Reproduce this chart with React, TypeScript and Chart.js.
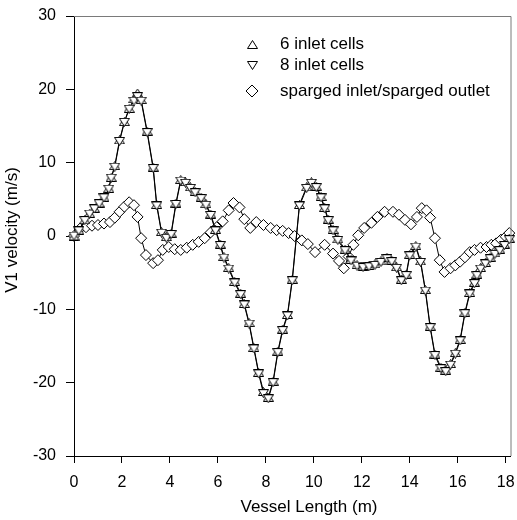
import React, { useEffect, useRef } from "react";
import { Chart, registerables } from "chart.js";

Chart.register(...registerables);

const FONT = "'Liberation Sans', Arial, Helvetica, sans-serif";

const xTicks = [0, 2, 4, 6, 8, 10, 12, 14, 16, 18];
const yTicks = [-30, -20, -10, 0, 10, 20, 30];
const xTitle = "Vessel Length (m)";
const yTitle = "V1 velocity (m/s)";
const legendLabels = ["6 inlet cells", "8 inlet cells", "sparged inlet/sparged outlet"];

const inlet6X = [
  0.0, 0.2, 0.45, 0.65, 0.85, 1.05, 1.25, 1.45, 1.55, 1.7, 1.9, 2.1, 2.3, 2.5, 2.65, 2.8,
  3.05, 3.3, 3.45, 3.65, 3.85, 4.05, 4.25, 4.45, 4.65, 4.85, 5.05, 5.3, 5.5, 5.7, 5.9, 6.1,
  6.25, 6.45, 6.7, 6.95, 7.1, 7.3, 7.5, 7.7, 7.9, 8.1, 8.3, 8.5, 8.7, 8.9, 9.1, 9.4, 9.7,
  9.9, 10.1, 10.3, 10.45, 10.6, 10.8, 11.0, 11.3, 11.55, 11.8, 12.05, 12.3, 12.55, 12.8,
  13.05, 13.25, 13.45, 13.65, 13.85, 14.0, 14.25, 14.45, 14.65, 14.85, 15.05, 15.3, 15.5,
  15.7, 15.9, 16.1, 16.3, 16.5, 16.7, 16.8, 16.95, 17.15, 17.35, 17.55, 17.75, 17.95, 18.15,
];
const inlet6Y = [
  0.0, 0.8, 2.2, 3.1, 3.8, 4.5, 5.3, 6.5, 8.0, 9.6, 13.1, 15.6, 17.4, 18.7, 19.5, 18.6,
  14.3, 9.4, 4.3, 0.6, -0.1, 0.4, 4.5, 7.7, 7.4, 6.7, 6.1, 5.3, 4.4, 3.0, 0.9, -1.1,
  -2.8, -4.3, -6.2, -7.8, -9.2, -11.8, -15.2, -18.6, -21.2, -22.0, -19.8, -15.7, -12.7, -10.7, -5.9, 4.3, 6.7,
  7.4, 6.8, 5.4, 3.9, 2.3, 0.9, -0.4, -1.8, -3.2, -3.9, -4.1, -4.0, -3.8, -3.4,
  -2.9, -3.3, -4.2, -5.9, -5.2, -2.5, -1.3, -3.4, -7.3, -12.3, -16.1, -17.9, -18.3,
  -17.4, -15.9, -14.1, -10.4, -7.7, -6.3, -5.2, -4.3, -3.6, -2.9, -2.3, -1.8, -1.1, -0.3,
];

const inlet8X = [
  0.0, 0.2, 0.45, 0.65, 0.85, 1.05, 1.25, 1.45, 1.55, 1.7, 1.9, 2.1, 2.3, 2.5, 2.65, 2.8,
  3.05, 3.3, 3.45, 3.65, 3.85, 4.05, 4.25, 4.45, 4.65, 4.85, 5.05, 5.3, 5.5, 5.7, 5.9, 6.1,
  6.25, 6.45, 6.7, 6.95, 7.1, 7.3, 7.5, 7.7, 7.9, 8.1, 8.3, 8.5, 8.7, 8.9, 9.1, 9.4, 9.7,
  9.9, 10.1, 10.3, 10.45, 10.6, 10.8, 11.0, 11.3, 11.55, 11.8, 12.05, 12.3, 12.55, 12.8,
  13.05, 13.25, 13.45, 13.65, 13.85, 14.0, 14.25, 14.45, 14.65, 14.85, 15.05, 15.3, 15.5,
  15.7, 15.9, 16.1, 16.3, 16.5, 16.7, 16.8, 16.95, 17.15, 17.35, 17.55, 17.75, 17.95, 18.15,
];
const inlet8Y = [
  0.0, 0.7, 2.1, 3.0, 3.7, 4.4, 5.2, 6.4, 7.9, 9.4, 12.9, 15.5, 17.3, 18.4, 19.0, 18.4,
  14.1, 9.2, 4.1, 0.4, -0.3, 0.2, 4.3, 7.5, 7.2, 6.5, 5.9, 5.1, 4.2, 2.8, 0.7, -1.3,
  -3.0, -4.5, -6.4, -8.0, -9.4, -12.0, -15.4, -18.8, -21.5, -22.2, -20.0, -15.9, -12.9, -10.9, -6.1, 4.1, 6.5,
  7.2, 6.6, 5.2, 3.7, 2.1, 0.7, -0.6, -2.0, -3.4, -4.1, -4.3, -4.2, -4.0, -3.6,
  -3.1, -3.5, -4.4, -6.1, -5.4, -2.7, -1.5, -3.6, -7.5, -12.5, -16.3, -18.1, -18.5,
  -17.6, -16.1, -14.3, -10.6, -7.9, -6.5, -5.4, -4.5, -3.8, -3.1, -2.5, -2.0, -1.3, -0.5,
];

const spargedX = [
  0.0, 0.25, 0.5, 0.75, 1.0, 1.25, 1.5, 1.7, 1.9, 2.1, 2.3, 2.5, 2.65, 2.8, 3.0, 3.3, 3.5,
  3.7, 3.95, 4.2, 4.45, 4.7, 4.95, 5.2, 5.45, 5.7, 5.95, 6.2, 6.45, 6.65, 6.9, 7.1, 7.35,
  7.6, 7.9, 8.2, 8.45, 8.7, 8.95, 9.2, 9.5, 9.75, 10.05, 10.45, 10.8, 11.05, 11.25, 11.45,
  11.65, 11.85, 12.1, 12.4, 12.65, 12.95, 13.3, 13.55, 13.8, 14.05, 14.3, 14.5, 14.7, 14.85,
  15.05, 15.25, 15.45, 15.7, 15.9, 16.1, 16.3, 16.5, 16.7, 16.95, 17.2, 17.4, 17.6, 17.8,
  18.0, 18.15,
];
const spargedY = [
  0.0, 1.0, 1.2, 1.4, 1.5, 1.7, 1.9, 2.5, 3.3, 4.0, 4.6, 4.2, 2.6, -0.3, -2.6, -3.7, -3.3,
  -1.9, -1.5, -1.8, -1.9, -1.6, -1.2, -0.8, -0.3, 0.5, 1.2, 2.0, 3.5, 4.5, 3.9, 2.3, 1.1,
  1.9, 1.5, 1.1, 0.8, 0.7, 0.4, 0.0, -0.6, -1.1, -2.2, -1.2, -2.4, -3.4, -4.4, -2.8,
  -1.2, 0.1, 1.1, 1.8, 2.6, 3.3, 3.3, 2.9, 2.2, 1.6, 2.6, 3.8, 3.5, 2.5,
  -0.3, -3.3, -4.9, -4.4, -4.0, -3.5, -2.9, -2.2, -1.9, -1.6, -1.5, -1.2, -1.0, -0.5,
  -0.1, 0.4,
];

function makeTriangle(up: boolean): HTMLCanvasElement {
  const c = document.createElement("canvas");
  c.width = 11;
  c.height = 9;
  const g = c.getContext("2d")!;
  g.beginPath();
  if (up) {
    g.moveTo(5.5, 0.5);
    g.lineTo(10.5, 8.5);
    g.lineTo(0.5, 8.5);
  } else {
    g.moveTo(0.5, 0.5);
    g.lineTo(10.5, 0.5);
    g.lineTo(5.5, 8.5);
  }
  g.closePath();
  g.fillStyle = "#fff";
  g.fill();
  g.strokeStyle = "#000";
  g.lineWidth = 1;
  g.stroke();
  return c;
}

function toPoints(xs: number[], ys: number[]) {
  return xs.map((x, i) => ({ x, y: ys[i] }));
}

export default function App() {
  const ref = useRef<HTMLCanvasElement | null>(null);

  useEffect(() => {
    if (!ref.current) return;
    const upTri = makeTriangle(true);
    const downTri = makeTriangle(false);

    const framePlugin = {
      id: "frameAndLegend",
      afterDraw(chart: any) {
        const { ctx, chartArea } = chart;
        ctx.save();
        ctx.strokeStyle = "#7a7a7a";
        ctx.lineWidth = 1;
        ctx.beginPath();
        ctx.moveTo(chartArea.left, chartArea.top + 0.5);
        ctx.lineTo(chartArea.right + 0.5, chartArea.top + 0.5);
        ctx.lineTo(chartArea.right + 0.5, chartArea.bottom);
        ctx.stroke();

        // axis titles
        ctx.fillStyle = "#000";
        ctx.font = `17px ${FONT}`;
        ctx.textAlign = "center";
        ctx.textBaseline = "middle";
        ctx.fillText(xTitle, chartArea.left + 235, chartArea.bottom + 51);
        ctx.save();
        ctx.translate(12, chartArea.top + 214);
        ctx.rotate(-Math.PI / 2);
        ctx.fillText(yTitle, 0, 0);
        ctx.restore();

        // legend
        const symX = chartArea.left + 178;
        const textX = chartArea.left + 206;
        const rows = [chartArea.top + 28, chartArea.top + 49, chartArea.top + 75];
        ctx.drawImage(upTri, Math.round(symX - 5.5), Math.round(rows[0] - 4.5));
        ctx.drawImage(downTri, Math.round(symX - 5.5), Math.round(rows[1] - 4.5));
        ctx.beginPath();
        ctx.moveTo(symX, rows[2] - 6);
        ctx.lineTo(symX + 6, rows[2]);
        ctx.lineTo(symX, rows[2] + 6);
        ctx.lineTo(symX - 6, rows[2]);
        ctx.closePath();
        ctx.fillStyle = "#fff";
        ctx.fill();
        ctx.strokeStyle = "#000";
        ctx.stroke();
        ctx.fillStyle = "#000";
        ctx.textAlign = "left";
        legendLabels.forEach((t, i) => ctx.fillText(t, textX, rows[i]));
        ctx.restore();
      },
    };

    const chart = new Chart(ref.current, {
      type: "scatter",
      data: {
        datasets: [
          {
            label: legendLabels[1],
            data: toPoints(inlet8X, inlet8Y),
            showLine: true,
            borderColor: "#000",
            borderWidth: 1,
            pointStyle: downTri as any,
            pointRadius: 5,
            clip: false as any,
            order: 0,
          },
          {
            label: legendLabels[0],
            data: toPoints(inlet6X, inlet6Y),
            showLine: true,
            borderColor: "#000",
            borderWidth: 1,
            pointStyle: upTri as any,
            pointRadius: 5,
            clip: false as any,
            order: 1,
          },
          {
            label: legendLabels[2],
            data: toPoints(spargedX, spargedY),
            showLine: true,
            borderColor: "#000",
            borderWidth: 1,
            pointStyle: "rectRot",
            pointRadius: 5.5,
            pointBackgroundColor: "#fff",
            pointBorderColor: "#000",
            pointBorderWidth: 1,
            clip: false as any,
            order: 2,
          },
        ],
      },
      options: {
        responsive: false,
        animation: false,
        devicePixelRatio: 1,
        layout: { padding: { top: 16, right: 3, left: 0, bottom: 0 } },
        plugins: {
          legend: { display: false },
          tooltip: { enabled: false },
        },
        scales: {
          x: {
            type: "linear",
            min: 0,
            max: 18.2,
            afterBuildTicks: (s: any) => {
              s.ticks = xTicks.map((v) => ({ value: v }));
            },
            afterFit: (s: any) => {
              s.height = 64;
              s.paddingLeft = 0;
              s.paddingRight = 0;
              s.paddingTop = 0;
              s.paddingBottom = 0;
            },
            grid: { display: true, drawOnChartArea: false, drawTicks: true, tickLength: 7, color: "#000", lineWidth: 1 },
            border: { display: true, color: "#000", width: 1 },
            ticks: { color: "#000", font: { size: 16, family: FONT }, padding: 10, maxRotation: 0, autoSkip: false, includeBounds: false },
            title: { display: false },
          },
          y: {
            type: "linear",
            min: -30,
            max: 30,
            afterBuildTicks: (s: any) => {
              s.ticks = yTicks.map((v) => ({ value: v }));
            },
            afterFit: (s: any) => {
              s.width = 74;
              s.paddingLeft = 0;
              s.paddingRight = 0;
              s.paddingTop = 0;
              s.paddingBottom = 0;
            },
            grid: { display: true, drawOnChartArea: false, drawTicks: true, tickLength: 8, color: "#000", lineWidth: 1 },
            border: { display: true, color: "#000", width: 1 },
            ticks: { color: "#000", font: { size: 16, family: FONT }, padding: 10, autoSkip: false },
            title: { display: false },
          },
        },
      } as any,
      plugins: [framePlugin],
    });
    return () => chart.destroy();
  }, []);

  return (
    <div style={{ position: "absolute", left: 0, top: 0, width: 517, height: 520, background: "#fff" }}>
      <canvas ref={ref} width={517} height={520} style={{ display: "block" }} />
    </div>
  );
}
